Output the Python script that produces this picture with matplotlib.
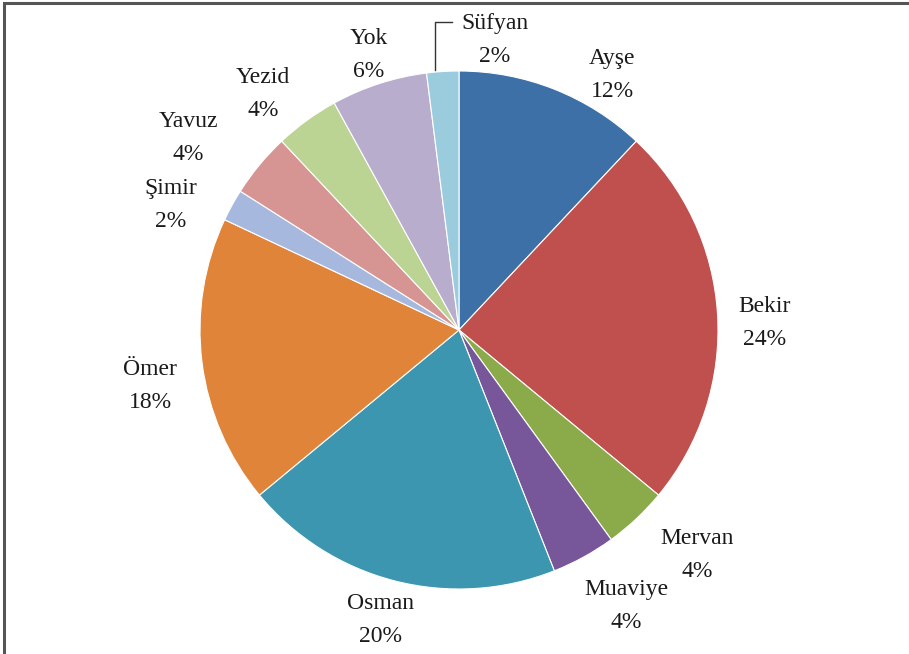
import matplotlib.pyplot as plt
from matplotlib.patches import Rectangle

labels = ['Ayşe', 'Bekir', 'Mervan', 'Muaviye', 'Osman', 'Ömer',
          'Şimir', 'Yavuz', 'Yezid', 'Yok', 'Süfyan']
values = [12, 24, 4, 4, 20, 18, 2, 4, 4, 6, 2]
colors = ['#3E70A8', '#C0504D', '#8BAA4A', '#77579A', '#3C96B0', '#E0843A',
          '#A6B8DE', '#D69592', '#BBD393', '#B8ADCD', '#9BCCDD']

# label anchor points in pixel coords (x, y from top)
label_pos = {
    'Ayşe': (612, 75), 'Bekir': (765, 323), 'Mervan': (697, 555),
    'Muaviye': (626, 606), 'Osman': (380, 620), 'Ömer': (150, 386),
    'Şimir': (171, 205), 'Yavuz': (188, 138), 'Yezid': (263, 94),
    'Yok': (369, 55), 'Süfyan': (495, 40),
}

W, H = 909, 654
fig = plt.figure(figsize=(W / 100, H / 100), dpi=100)
ax = fig.add_axes([0, 0, 1, 1])

cx, cy, r = 459, H - 330, 259
ax.pie(values, colors=colors, startangle=90, counterclock=False,
       center=(cx, cy), radius=r, frame=True,
       wedgeprops=dict(edgecolor='white', linewidth=0.8))
ax.set_xlim(0, W)
ax.set_ylim(0, H)
ax.set_aspect('equal')
ax.axis('off')

font = dict(family='Liberation Serif', fontsize=17, color='#1a1a1a')
for name, v in zip(labels, values):
    x, y = label_pos[name]
    ax.text(x, H - y, f'{name}\n{v}%', ha='center', va='center',
            linespacing=1.75, **font)

# leader line for Süfyan
ax.plot([435, 435, 452], [H - 70, H - 22, H - 22], color='#333333', lw=1)

# frame (only top and left edges fall inside the image)
ax.add_patch(Rectangle((4, -10), W + 20, H + 7, fill=False,
                       edgecolor='#555555', lw=2.2, clip_on=False))

fig.savefig('out.png', dpi=100)
